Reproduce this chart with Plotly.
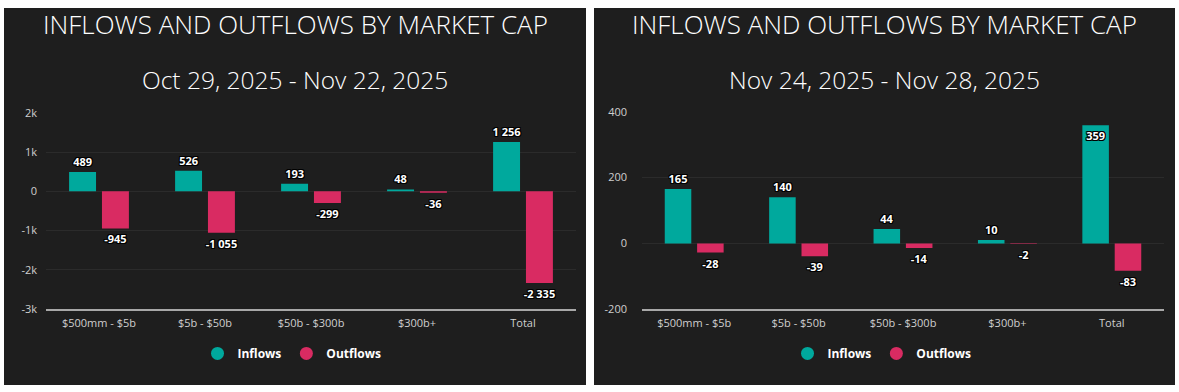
import plotly.graph_objects as go

categories = ["$500mm - $5b", "$5b - $50b", "$50b - $300b", "$300b+", "Total"]

left_title = "INFLOWS AND OUTFLOWS BY MARKET CAP"
left_subtitle = "Oct 29, 2025 - Nov 22, 2025"
left_inflows = [489, 526, 193, 48, 1256]
left_outflows = [-945, -1055, -299, -36, -2335]
left_ticks = [-3000, -2000, -1000, 0, 1000, 2000]
left_ticktext = ["-3k", "-2k", "-1k", "0", "1k", "2k"]

right_title = "INFLOWS AND OUTFLOWS BY MARKET CAP"
right_subtitle = "Nov 24, 2025 - Nov 28, 2025"
right_inflows = [165, 140, 44, 10, 359]
right_outflows = [-28, -39, -14, -2, -83]
right_ticks = [-200, 0, 200, 400]
right_ticktext = ["-200", "0", "200", "400"]

W, H = 1179, 392
TEAL = "#00A99D"
PINK = "#D92B62"
BG = "#1e1e1e"
GRID = "#2b2b2b"
FONT = "Open Sans"
OUTLINE = ("-1px -1px 0 #000, 1px -1px 0 #000, -1px 1px 0 #000, 1px 1px 0 #000, "
           "0 1px 0 #000, 0 -1px 0 #000, 1px 0 0 #000, -1px 0 0 #000")

# the photographed page shows a small vertical scale/offset; compensate for it
SY, OY = 0.959, 8.6


def px(x):
    return x / W


def py(y):
    yy = (y - OY) / SY
    return 1 - yy / H


def fmt(v):
    s = f"{abs(v):,}".replace(",", " ")
    return ("-" if v < 0 else "") + s


label_font = dict(family=FONT, size=11, color="white", weight="bold", shadow=OUTLINE)

fig = go.Figure()

panels = [
    dict(xa="x", ya="y", inflows=left_inflows, outflows=left_outflows, legend="legend",
         inpos=["outside"] * 5),
    dict(xa="x2", ya="y2", inflows=right_inflows, outflows=right_outflows, legend="legend2",
         inpos=["outside"] * 4 + ["inside"]),
]

for p in panels:
    fig.add_trace(go.Bar(
        x=categories, y=p["inflows"], name="Inflows", marker_color=TEAL, marker_line_width=0,
        text=[fmt(v) for v in p["inflows"]], textposition=p["inpos"], insidetextanchor="end",
        textfont=label_font, outsidetextfont=label_font, insidetextfont=label_font,
        constraintext="none", cliponaxis=False, showlegend=False, xaxis=p["xa"], yaxis=p["ya"]))
    fig.add_trace(go.Bar(
        x=categories, y=p["outflows"], name="Outflows", marker_color=PINK, marker_line_width=0,
        text=[fmt(v) for v in p["outflows"]], textposition="outside",
        textfont=label_font, outsidetextfont=label_font,
        constraintext="none", cliponaxis=False, showlegend=False, xaxis=p["xa"], yaxis=p["ya"]))
    for nm, col in [("Inflows", TEAL), ("Outflows", PINK)]:
        fig.add_trace(go.Scatter(
            x=[None], y=[None], mode="markers", name=nm,
            marker=dict(symbol="circle", size=13, color=col),
            xaxis=p["xa"], yaxis=p["ya"], legend=p["legend"], showlegend=True))

# panel backgrounds
for x0, x1 in [(4, 586), (594, 1175)]:
    fig.add_shape(type="rect", xref="paper", yref="paper", x0=px(x0), x1=px(x1),
                  y0=max(py(390), 0), y1=min(py(4), 1), fillcolor=BG, line_width=0, layer="below")

axis_common = dict(showgrid=False, zeroline=False, showline=True, linecolor="#a8a8a8",
                   linewidth=2, ticks="", tickfont=dict(family=FONT, size=11, color="#cfcfcf"),
                   fixedrange=True)
yaxis_common = dict(showgrid=True, gridcolor=GRID, gridwidth=1, zeroline=True,
                    zerolinecolor=GRID, zerolinewidth=1, showline=False, ticks="",
                    tickfont=dict(family=FONT, size=11, color="#cfcfcf"), fixedrange=True)

title_font = dict(family=FONT, size=26, color="white", weight=300)
sub_font = dict(family=FONT, size=24.5, color="white", weight=300)
legend_font = dict(family=FONT, size=12, color="white", weight="bold")

fig.update_layout(
    width=W, height=H, margin=dict(l=0, r=0, t=0, b=0),
    paper_bgcolor="white", plot_bgcolor="rgba(0,0,0,0)",
    barmode="group", bargap=0.38, bargroupgap=0.18,
    hovermode=False,
    font=dict(family=FONT, color="white"),
    xaxis=dict(domain=[px(46), px(576)], anchor="y", ticklabelstandoff=3, **axis_common),
    yaxis=dict(domain=[py(309), py(113)], anchor="x", range=[-3000, 2000],
               tickvals=left_ticks, ticktext=left_ticktext, ticklabelstandoff=8, **yaxis_common),
    xaxis2=dict(domain=[px(642), px(1164)], anchor="y2", ticklabelstandoff=3, **axis_common),
    yaxis2=dict(domain=[py(309), py(112)], anchor="x2", range=[-200, 400],
                tickvals=right_ticks, ticktext=right_ticktext, ticklabelstandoff=14, **yaxis_common),
    legend=dict(orientation="h", x=px(292), xanchor="center", y=py(353), yanchor="middle",
                bgcolor="rgba(0,0,0,0)", font=legend_font, itemwidth=30),
    legend2=dict(orientation="h", x=px(882), xanchor="center", y=py(353), yanchor="middle",
                 bgcolor="rgba(0,0,0,0)", font=legend_font, itemwidth=30),
    annotations=[
        dict(text=left_title, x=px(295), y=py(25), xref="paper", yref="paper", showarrow=False,
             xanchor="center", yanchor="middle", font=title_font),
        dict(text=left_subtitle, x=px(295), y=py(80), xref="paper", yref="paper", showarrow=False,
             xanchor="center", yanchor="middle", font=sub_font),
        dict(text=right_title, x=px(884), y=py(25), xref="paper", yref="paper", showarrow=False,
             xanchor="center", yanchor="middle", font=title_font),
        dict(text=right_subtitle, x=px(884), y=py(80), xref="paper", yref="paper", showarrow=False,
             xanchor="center", yanchor="middle", font=sub_font),
    ],
)

fig.write_html(
    "out.html",
    config={"displayModeBar": False, "staticPlot": True},
    post_script=(
        "var gd=document.getElementById('{plot_id}');"
        "document.documentElement.style.margin='0';"
        "document.body.style.margin='0';"
        "document.body.style.overflow='hidden';"
        "gd.style.position='fixed';gd.style.left='0';gd.style.top='0';"
    ),
)
